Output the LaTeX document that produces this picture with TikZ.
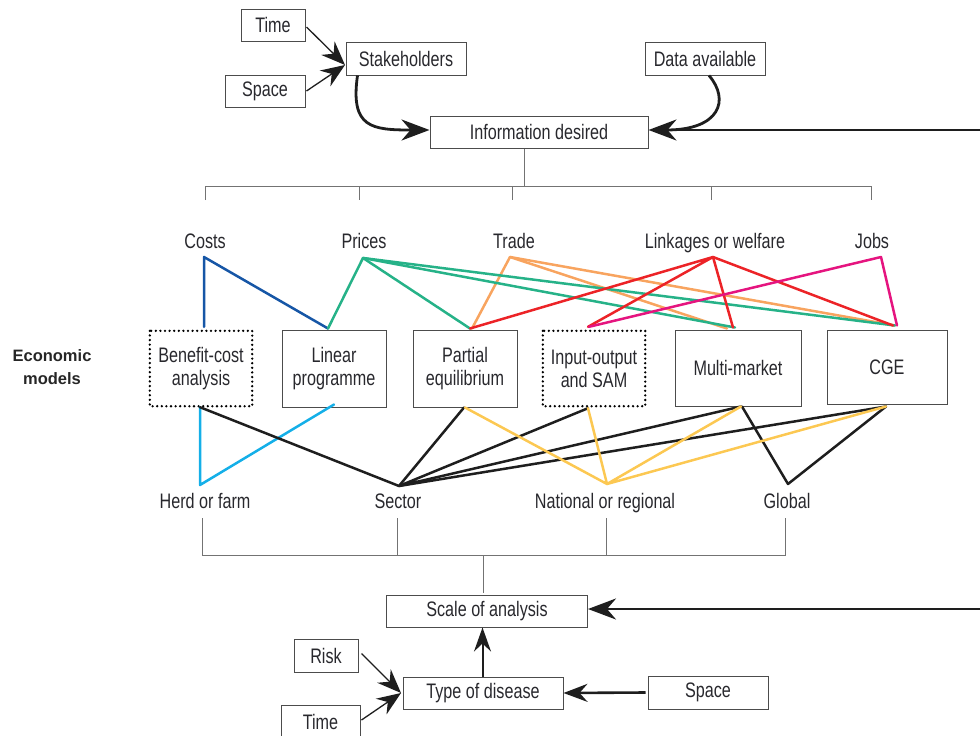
\documentclass[tikz,border=0pt]{standalone}
\usepackage{fontspec}
\setmainfont{Liberation Sans}[FakeStretch=0.77]
\newfontfamily\econfont{Liberation Sans}
\usetikzlibrary{arrows.meta}
\definecolor{cblue}{RGB}{22,86,166}
\definecolor{cgreen}{RGB}{38,178,136}
\definecolor{corange}{RGB}{248,164,95}
\definecolor{cred}{RGB}{236,35,39}
\definecolor{cmag}{RGB}{229,20,127}
\definecolor{clblue}{RGB}{20,175,232}
\definecolor{cyellow}{RGB}{252,200,82}
\definecolor{cblack}{RGB}{30,30,30}
\definecolor{txt}{RGB}{40,40,45}
\begin{document}
\begin{tikzpicture}[x=1pt,y=-1pt,
  font=\fontsize{21}{23}\selectfont, text=txt,
  box/.style={draw=black!70, line width=1pt, inner sep=0pt, align=center},
  dbox/.style={inner sep=0pt, align=center},
  dotframe/.style={draw=black, line width=2.6pt, line cap=round, dash pattern=on 0pt off 4.6pt},
  lbl/.style={inner sep=0pt, anchor=base},
  con/.style={line width=2.5pt, line cap=round, line join=round},
  tree/.style={draw=black!55, line width=1pt},
  thinarr/.style={draw=cblack, line width=1.3pt, -{Stealth[length=24pt,width=19pt,inset=8pt]}},
  thickarr/.style={draw=cblack, line width=2.8pt, -{Stealth[length=28pt,width=21pt,inset=9pt]}},
  midarr/.style={draw=cblack, line width=2pt, -{Stealth[length=24pt,width=17pt,inset=8pt]}}
]
\useasboundingbox (0,0) rectangle (980,736);
% ---------- top part ----------
\node[box, minimum width=64pt, minimum height=32pt] (time1) at (273,25) {Time};
\node[box, minimum width=80pt, minimum height=32pt] (space1) at (265,91) {Space};
\node[box, minimum width=120pt, minimum height=33pt] (stake) at (406,58.5) {Stakeholders};
\node[box, minimum width=120pt, minimum height=33pt] (data) at (705,58.5) {Data available};
\node[box, minimum width=218pt, minimum height=32pt] (info) at (539,132) {Information desired};
\coordinate (edgeA) at (980,130);
\coordinate (stakein) at (345,65);

\draw[thinarr] ([xshift=1pt,yshift=-2pt]time1.east) -- (stakein);
\draw[thinarr] ([xshift=1pt]space1.east) -- (stakein);
\draw[thickarr] ([xshift=12pt]stake.south west) .. controls (350,128) and (372,130) .. ([yshift=2pt]info.west);
\draw[draw=cblack, line width=2.8pt] (edgeA) -- ([yshift=2pt,xshift=20pt]info.east);
\draw[thickarr] ([xshift=4pt]data.south) .. controls (730,100) and (720,130) .. ([yshift=2pt]info.east);

% tree top
\draw[tree] ([xshift=-15pt]info.south) -- (524,186);
\draw[tree] (205,200) -- (205,186) -- (871,186) -- (871,200);
\draw[tree] (359,186) -- (359,200);
\draw[tree] (512,186) -- (512,200);
\draw[tree] (711,186) -- (711,200);

% information labels
\node[lbl] (costs) at (205,248) {Costs};
\node[lbl] (prices) at (364,248) {Prices};
\node[lbl] (trade) at (514,248) {Trade};
\node[lbl] (link) at (715,248) {Linkages or welfare};
\node[lbl] (jobs) at (872,248) {Jobs};
\coordinate (pC) at (204,257);
\coordinate (pP) at (363,258);
\coordinate (pT) at (510,257);
\coordinate (pL) at (713,257);
\coordinate (pJ) at (881,257);

% ---------- models ----------
\node[font=\econfont\bfseries\fontsize{16.5}{23}\selectfont, text=black!85, align=center, inner sep=0pt] (econ) at (52,367) {Economic\\models};
\node[dbox, minimum width=102pt, minimum height=75pt] (bc) at (201,368.5) {Benefit-cost\\analysis};
\draw[dotframe] (bc.north west) rectangle (bc.south east);
\node[box, minimum width=104pt, minimum height=77pt] (lp) at (334,368.5) {Linear\\programme};
\node[box, minimum width=104pt, minimum height=77pt] (pe) at (465,368.5) {Partial\\equilibrium};
\node[dbox, minimum width=102pt, minimum height=75pt] (io) at (594,368.5) {Input-output\\and SAM};
\draw[dotframe] (io.north west) rectangle (io.south east);
\node[box, minimum width=126pt, minimum height=76pt] (mm) at (738,368) {Multi-market};
\node[box, minimum width=120pt, minimum height=74pt] (cge) at (887,367) {CGE};

% scale labels
\node[lbl] (herd) at (205,508) {Herd or farm};
\node[lbl] (sector) at (398,508) {Sector};
\node[lbl] (natl) at (605,508) {National or regional};
\node[lbl] (glob) at (787,508) {Global};
\coordinate (qH) at (200,485);
\coordinate (qS) at (399,486);
\coordinate (qN) at (607,484);
\coordinate (qG) at (788,484);

% top connectors
\draw[con, draw=cblue] ([xshift=3pt,yshift=4pt]bc.north) -- (pC) -- ([xshift=-6pt,yshift=1pt]lp.north);
\draw[con, draw=corange] ([xshift=7pt,yshift=1pt]pe.north) -- (pT) -- ([xshift=-11pt,yshift=1pt]mm.north);
\draw[con, draw=corange] (pT) -- ([xshift=8pt,yshift=4pt]cge.north);
\draw[con, draw=cgreen] ([xshift=-6pt,yshift=1pt]lp.north) -- (pP) -- ([xshift=5pt,yshift=1pt]pe.north);
\draw[con, draw=cgreen] (pP) -- ([xshift=-3pt,yshift=2pt]mm.north);
\draw[con, draw=cgreen] (pP) -- ([xshift=8pt,yshift=4pt]cge.north);
\draw[con, draw=cred] ([xshift=5pt,yshift=1pt]pe.north) -- (pL) -- ([xshift=-6pt,yshift=4pt]io.north);
\draw[con, draw=cred] (pL) -- ([xshift=-5pt,yshift=2pt]mm.north);
\draw[con, draw=cred] (pL) -- ([xshift=6pt,yshift=4pt]cge.north);
\draw[con, draw=cmag] ([xshift=-5pt,yshift=4pt]io.north) -- (pJ) -- ([xshift=10pt,yshift=4pt]cge.north);

% bottom connectors
\draw[con, draw=clblue] ([xshift=-1pt,yshift=-1pt]bc.south) -- (qH) -- ([yshift=3pt]lp.south);
\draw[con, draw=cblack] ([xshift=-1pt,yshift=-1pt]bc.south) -- (qS) -- ([xshift=-1pt]pe.south);
\draw[con, draw=cblack] ([xshift=-6pt,yshift=-2pt]io.south) -- (qS) -- ([xshift=3pt]mm.south);
\draw[con, draw=cblack] (qS) -- ([xshift=-1pt,yshift=-2pt]cge.south);
\draw[con, draw=cblack] ([xshift=4pt]mm.south) -- (qG) -- ([xshift=-1pt,yshift=-2pt]cge.south);
\draw[con, draw=cyellow] (pe.south) -- (qN) -- ([xshift=-6pt,yshift=-2pt]io.south);
\draw[con, draw=cyellow] ([xshift=3pt]mm.south) -- (qN) -- ([xshift=-1pt,yshift=-2pt]cge.south);

% ---------- bottom part ----------
\draw[tree] (202,518) -- (202,555) -- (785,555) -- (785,518);
\draw[tree] (397,518) -- (397,555);
\draw[tree] (606,518) -- (606,555);
\node[box, minimum width=201pt, minimum height=32pt] (scale) at (487,611) {Scale of analysis};
\draw[tree] (483,555) -- (483,593);
\node[box, minimum width=160pt, minimum height=32pt] (tod) at (483,693) {Type of disease};
\node[box, minimum width=120pt, minimum height=33pt] (space2) at (708,692.5) {Space};
\node[box, minimum width=64pt, minimum height=33pt] (risk) at (326,655.5) {Risk};
\node[box, minimum width=79pt, minimum height=33pt] (time2) at (320.5,721.5) {Time};
\coordinate (edgeB) at (980,609);

\draw[thickarr] (edgeB) -- ([yshift=2pt]scale.east);
\draw[midarr] ([xshift=-0.5pt]tod.north) -- ([xshift=-4.5pt]scale.south);
\draw[draw=cblack, line width=2.6pt, -{Stealth[length=24pt,width=18pt,inset=8pt]}] ([xshift=-2pt]space2.west) -- (tod.east);
\coordinate (todin) at (401,693);
\draw[thinarr] ([xshift=3pt,yshift=2pt]risk.east) -- (todin);
\draw[thinarr] ([xshift=1pt,yshift=1.5pt]time2.east) -- (todin);
\end{tikzpicture}
\end{document}
